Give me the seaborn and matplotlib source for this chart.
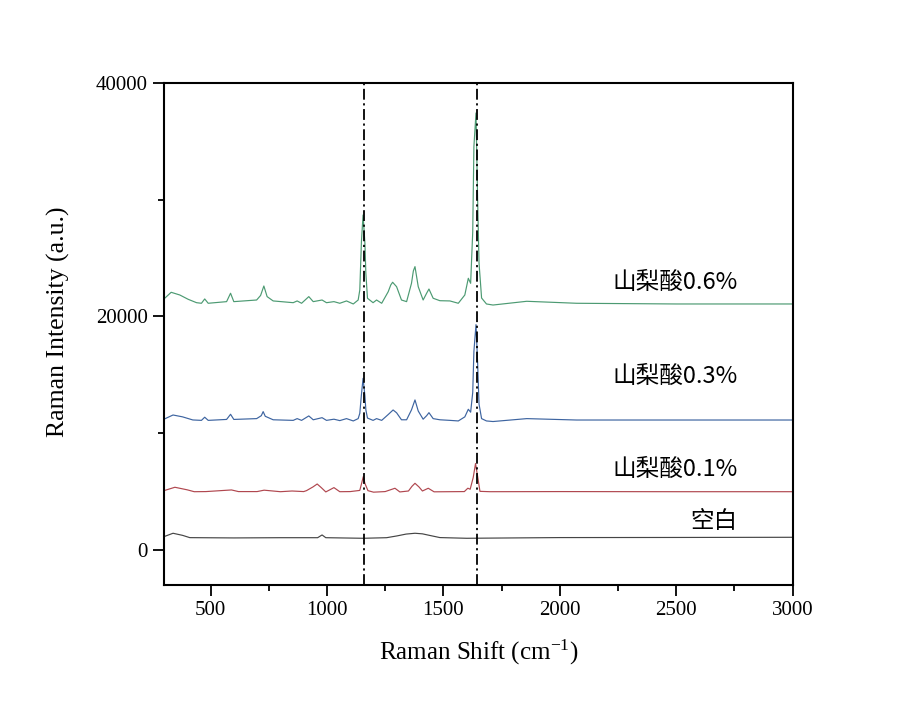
import pandas as pd
import matplotlib.pyplot as plt
import seaborn as sns

# Raman spectra (x in cm-1, y in a.u., already offset)
blank_x = [300, 339, 380, 411, 600, 800, 960, 979, 995, 1156, 1256, 1300, 1340,
           1378, 1410, 1440, 1485, 1600, 2000, 2500, 3000]
blank_y = [1140, 1430, 1250, 1055, 1030, 1050, 1050, 1285, 1050, 1000, 1050, 1200,
           1360, 1430, 1380, 1250, 1060, 1000, 1060, 1070, 1085]

low_x = [300, 347, 400, 430, 480, 590, 620, 700, 730, 800, 850, 900, 912, 940,
         958, 975, 995, 1030, 1055, 1100, 1141, 1150, 1156, 1163, 1176, 1200,
         1250, 1292, 1313, 1350, 1365, 1378, 1395, 1410, 1435, 1460, 1590, 1605,
         1615, 1628, 1638, 1647, 1657, 1700, 2000, 2500, 3000]
low_y = [5080, 5370, 5150, 4990, 5000, 5140, 5000, 5000, 5120, 4990, 5050, 5000,
         5080, 5400, 5650, 5350, 4970, 5340, 4990, 5000, 5100, 5800, 6280, 5700,
         5080, 4950, 5000, 5285, 4970, 5050, 5450, 5710, 5400, 5050, 5285, 4980,
         5000, 5290, 5200, 6200, 7400, 6300, 5020, 4990, 5000, 4990, 4990]

mid_x = [300, 339, 380, 424, 461, 475, 490, 569, 586, 600, 698, 718, 726, 735,
         769, 855, 872, 891, 922, 941, 979, 998, 1030, 1055, 1084, 1113, 1134,
         1141, 1148, 1155, 1163, 1167, 1174, 1198, 1213, 1235, 1263, 1284, 1299,
         1320, 1342, 1363, 1378, 1392, 1413, 1428, 1438, 1456, 1485, 1528, 1564,
         1592, 1607, 1617, 1626, 1631, 1640, 1647, 1653, 1664, 1685, 1713, 1858,
         2072, 2500, 3000]
mid_y = [11200, 11560, 11400, 11135, 11100, 11370, 11100, 11180, 11620, 11180,
         11250, 11500, 11850, 11450, 11150, 11100, 11250, 11100, 11480, 11150,
         11330, 11100, 11200, 11080, 11250, 11050, 11250, 11700, 13300, 14700,
         13200, 12000, 11300, 11100, 11250, 11100, 11600, 11990, 11750, 11150,
         11150, 12000, 12850, 11900, 11200, 11500, 11760, 11250, 11150, 11100,
         11050, 11400, 12050, 11800, 13500, 17000, 19300, 16000, 12500, 11250,
         11050, 11000, 11250, 11130, 11130, 11130]

high_x = [300, 331, 368, 404, 440, 461, 475, 490, 569, 586, 600, 698, 715, 729,
          743, 769, 855, 872, 891, 922, 941, 979, 998, 1030, 1055, 1084, 1113,
          1134, 1141, 1148, 1155, 1163, 1167, 1174, 1198, 1213, 1235, 1263, 1274,
          1282, 1299, 1320, 1342, 1363, 1371, 1378, 1392, 1413, 1428, 1438, 1456,
          1485, 1528, 1564, 1592, 1607, 1617, 1626, 1631, 1640, 1647, 1653, 1664,
          1685, 1713, 1858, 2072, 2500, 3000]
high_y = [21500, 22070, 21840, 21470, 21180, 21130, 21500, 21130, 21270, 21990,
          21270, 21410, 21800, 22610, 21700, 21330, 21180, 21330, 21130, 21700,
          21270, 21410, 21180, 21270, 21130, 21330, 21070, 21410, 22270, 26400,
          28690, 26270, 23720, 21560, 21180, 21410, 21130, 22120, 22700, 22930,
          22550, 21410, 21270, 22840, 23900, 24270, 22550, 21410, 21990, 22350,
          21560, 21350, 21330, 21130, 21840, 23270, 22840, 27260, 34540, 37430,
          29980, 24580, 21580, 21070, 20980, 21300, 21130, 21070, 21070]

samples = ["空白", "山梨酸0.1%", "山梨酸0.3%", "山梨酸0.6%"]
colors = ["#454545", "#b0474f", "#3d64a0", "#4c9a72"]
label_y = [2420, 6910, 14840, 22900]
marker_peaks = [1157, 1643]

frames = []
for name, xs, ys in zip(samples, [blank_x, low_x, mid_x, high_x],
                        [blank_y, low_y, mid_y, high_y]):
    frames.append(pd.DataFrame({"shift": xs, "intensity": ys, "sample": name}))
df = pd.concat(frames, ignore_index=True)

plt.rcParams["font.family"] = ["Liberation Serif", "DejaVu Serif"]
plt.rcParams["mathtext.fontset"] = "custom"
plt.rcParams["mathtext.rm"] = "Liberation Serif"
plt.rcParams["mathtext.it"] = "Liberation Serif:italic"

fig = plt.figure(figsize=(9.18, 7.02), dpi=100)
ax = fig.add_axes([0.1786, 0.1667, 0.6849, 0.7151])

sns.lineplot(
    data=df,
    x="shift",
    y="intensity",
    hue="sample",
    hue_order=samples,
    palette=dict(zip(samples, colors)),
    estimator=None,
    sort=False,
    legend=False,
    linewidth=0.85,
    ax=ax,
)

for p in marker_peaks:
    ax.axvline(p, color="black", linestyle=(0, (6, 2, 1.2, 2)), linewidth=1.3)

for name, yy in zip(samples, label_y):
    ax.text(2765, yy, name, ha="right", va="center", fontsize=17,
            family=["Noto Sans CJK SC", "DejaVu Sans"])

ax.set_xlim(300, 3000)
ax.set_ylim(-3000, 40000)
ax.set_xticks([500, 1000, 1500, 2000, 2500, 3000])
ax.set_xticks([750, 1250, 1750, 2250, 2750], minor=True)
ax.set_yticks([0, 20000, 40000])
ax.set_yticks([10000, 30000], minor=True)
ax.tick_params(which="major", length=8, width=1.3, labelsize=15)
ax.tick_params(which="minor", length=4, width=1.3)
for s in ax.spines.values():
    s.set_linewidth(1.5)

ax.set_xlabel(r"Raman Shift (cm$^{-1}$)", fontsize=18, labelpad=13)
ax.set_ylabel("Raman Intensity (a.u.)", fontsize=18.5)
ax.yaxis.set_label_coords(-0.149, 0.524)

plt.savefig("out.png", dpi=100)
plt.close()
